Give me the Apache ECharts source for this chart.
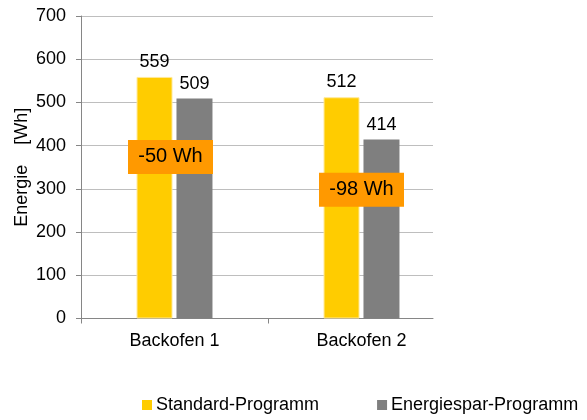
<!DOCTYPE html>
<html>
<head>
<meta charset="utf-8">
<script src="https://cdn.jsdelivr.net/npm/echarts@6/dist/echarts.min.js"></script>
<style>
html,body{margin:0;padding:0;background:#fff;}
#chart{width:587px;height:420px;}
</style>
</head>
<body>
<div id="chart"></div>
<script>
// ---- data ----
const categories = ['Backofen 1', 'Backofen 2'];
const seriesNames = ['Standard-Programm', 'Energiespar-Programm'];
const standardValues = [559, 512];
const sparValues = [509, 414];
const yTicks = [0, 100, 200, 300, 400, 500, 600, 700];
const annotationLabels = ['-50 Wh', '-98 Wh'];
const annotationValues = [374, 298];

const FONT = 'Liberation Sans, Arial, Helvetica, sans-serif';
const chart = echarts.init(document.getElementById('chart'), null, {renderer: 'canvas'});

const gridTop = 16, gridBottom = 101.5, gridLeft = 81;

const option = {
  backgroundColor: '#fff',
  animation: false,
  textStyle: {fontFamily: FONT},
  grid: [
    {left: gridLeft, right: 587 - 433, top: gridTop, bottom: gridBottom, containLabel: false, outerBoundsMode: 'none'},
    {left: gridLeft, width: 3 * 187, top: gridTop, bottom: gridBottom, containLabel: false, outerBoundsMode: 'none'}
  ],
  legend: {
    left: 137,
    top: 391,
    itemWidth: 10,
    itemHeight: 10,
    itemGap: 58,
    icon: 'rect',
    data: seriesNames,
    itemStyle: {borderWidth: 0},
    textStyle: {fontFamily: FONT, fontSize: 18, color: '#000', padding: [0, 0, 0, -1]}
  },
  xAxis: [
    {
      gridIndex: 0,
      type: 'category',
      data: categories,
      axisLine: {show: true, lineStyle: {color: '#868686', width: 1}},
      axisTick: {show: false},
      axisLabel: {show: false},
      splitLine: {show: false}
    },
    {
      gridIndex: 1,
      type: 'category',
      data: categories.concat(['']),
      axisLine: {show: false},
      axisTick: {
        show: true,
        length: 5,
        interval: function (idx) { return idx < categories.length; },
        lineStyle: {color: '#868686'}
      },
      axisLabel: {
        show: true,
        interval: 0,
        margin: 14,
        color: '#000',
        fontSize: 18,
        fontFamily: FONT
      },
      splitLine: {show: false}
    }
  ],
  yAxis: [
    {
      gridIndex: 0,
      type: 'value',
      min: yTicks[0],
      max: yTicks[yTicks.length - 1],
      interval: yTicks[1] - yTicks[0],
      name: 'Energie    [Wh]',
      nameLocation: 'middle',
      nameGap: 50,
      nameMoveOverlap: false,
      nameTextStyle: {color: '#000', fontSize: 18, fontFamily: FONT},
      axisLine: {show: true, lineStyle: {color: '#868686'}},
      axisTick: {show: true, length: 5, lineStyle: {color: '#868686'}},
      axisLabel: {color: '#000', fontSize: 18, fontFamily: FONT, margin: 15},
      splitLine: {show: true, lineStyle: {color: '#BEBEBE', width: 1}}
    },
    {
      gridIndex: 1,
      type: 'value',
      show: false,
      min: yTicks[0],
      max: yTicks[yTicks.length - 1],
      interval: yTicks[1] - yTicks[0],
      splitLine: {show: false}
    }
  ],
  series: [
    {
      name: seriesNames[0],
      type: 'bar',
      xAxisIndex: 1,
      yAxisIndex: 1,
      data: standardValues,
      barWidth: 36,
      barGap: '11%',
      itemStyle: {color: '#FFCC00', borderColor: '#FFE99A', borderWidth: 1},
      label: {show: true, position: 'top', distance: 6, color: '#000', fontSize: 18, fontFamily: FONT}
    },
    {
      name: seriesNames[1],
      type: 'bar',
      xAxisIndex: 1,
      yAxisIndex: 1,
      data: sparValues,
      barWidth: 36,
      barGap: '11%',
      itemStyle: {color: '#7F7F7F'},
      label: {show: true, position: 'top', distance: 6, color: '#000', fontSize: 18, fontFamily: FONT}
    },
    {
      name: 'annotations',
      type: 'scatter',
      xAxisIndex: 1,
      yAxisIndex: 1,
      silent: true,
      z: 5,
      symbol: 'rect',
      symbolSize: [85, 34],
      itemStyle: {color: '#FF9900', opacity: 1},
      label: {
        show: true,
        position: 'inside',
        color: '#000',
        fontSize: 20,
        fontFamily: FONT,
        formatter: function (p) { return annotationLabels[p.dataIndex]; }
      },
      data: categories.map(function (c, i) {
        return {value: [c, annotationValues[i]], symbolOffset: [i === 0 ? -4 : 0, 0]};
      })
    }
  ]
};
chart.setOption(option);
</script>
</body>
</html>
